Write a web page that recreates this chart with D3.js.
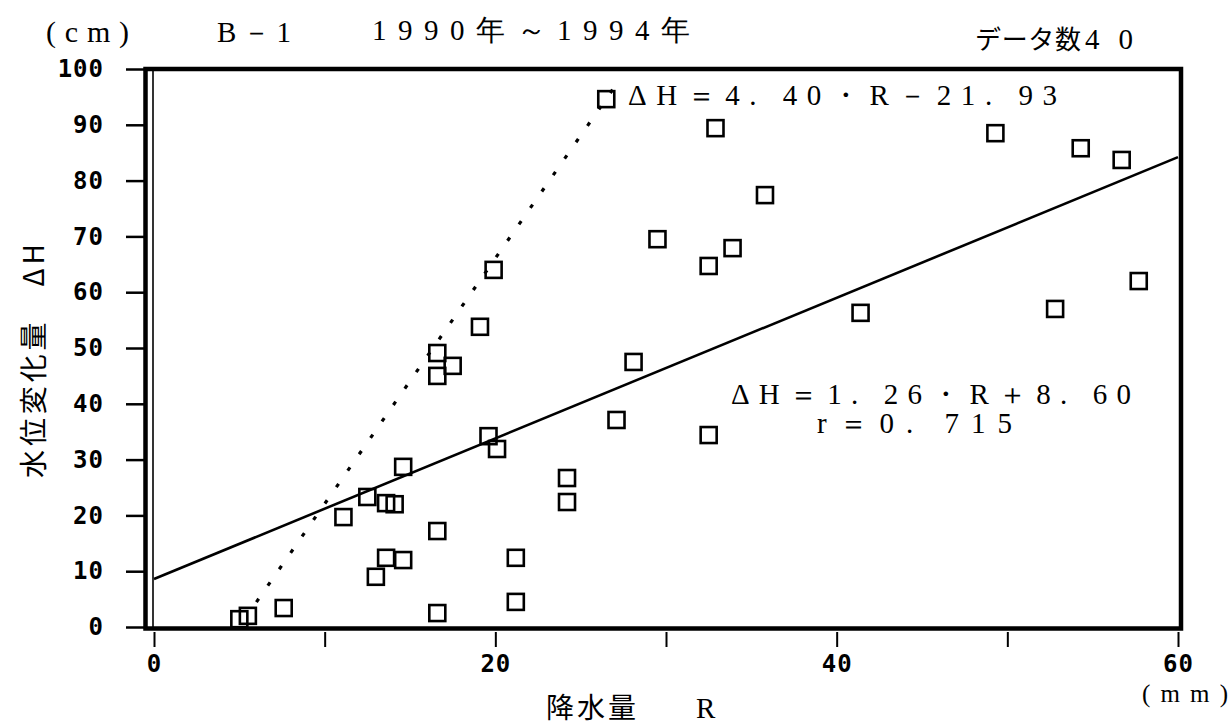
<!DOCTYPE html>
<html>
<head>
<meta charset="utf-8">
<script src="https://cdn.jsdelivr.net/npm/d3@7"></script>
<style>
  body { margin: 0; background: #fff; }
  svg { display: block; }
  .tick text { font-family: "DejaVu Sans Mono", monospace; font-weight: bold; font-size: 24px; letter-spacing: 1px; fill: #000; }
  .serif { font-family: "Liberation Serif", "DejaVu Serif", serif; }
  .jp { font-family: "Noto Sans CJK JP", sans-serif; }
</style>
</head>
<body>
<div id="chart"></div>
<script>
// rainfall R (mm) vs water level change dH (cm), B-1 1990-1994
var rainfall = [5.0, 5.5, 7.6, 11.1, 12.5, 13.6, 14.1, 14.6, 16.6, 17.5,
                16.6, 19.1, 19.6, 20.1, 16.6, 13.6, 14.6, 13.0, 16.6, 21.2,
                21.2, 24.2, 24.2, 27.1, 28.1, 19.9, 26.5, 29.5, 32.9, 32.5,
                33.9, 35.8, 32.5, 41.4, 49.3, 54.3, 56.7, 52.8, 57.7];
var levelChange = [1.4, 2.0, 3.4, 19.7, 23.3, 22.2, 22.0, 28.7, 49.1, 46.8,
                   45.0, 53.8, 34.2, 31.9, 17.2, 12.4, 12.0, 9.0, 2.5, 12.4,
                   4.5, 26.7, 22.4, 37.1, 47.5, 64.0, 94.6, 69.5, 89.4, 64.7,
                   67.9, 77.4, 34.4, 56.3, 88.5, 85.8, 83.7, 57.0, 62.0];

// regression lines: [slope, intercept, from R, to R]
var fitAll = [1.26, 8.60, 0, 60];
var fitUpper = [4.40, -21.93, 6.0, 27.1];

var xTicks = [0, 10, 20, 30, 40, 50, 60];
var xLabelTicks = [0, 20, 40, 60];
var yTicks = [0, 10, 20, 30, 40, 50, 60, 70, 80, 90, 100];

var width = 1230, height = 727;

var svg = d3.select("#chart").append("svg")
    .attr("width", width)
    .attr("height", height);

var x = d3.scaleLinear().domain([0, 60]).range([154, 1178]);
var y = d3.scaleLinear().domain([0, 100]).range([627, 69]);

// frame
svg.append("rect")
    .attr("x", 145.5).attr("y", 69)
    .attr("width", 1181 - 145.5).attr("height", 628.5 - 69)
    .attr("fill", "none").attr("stroke", "#000").attr("stroke-width", 4.5);
svg.append("line")
    .attr("x1", x(0) - 1).attr("x2", x(0) - 1)
    .attr("y1", 69).attr("y2", 628)
    .attr("stroke", "#000").attr("stroke-width", 1.6);

// axes
var yAxis = svg.append("g")
    .attr("transform", "translate(144,0)")
    .call(d3.axisLeft(y).tickValues(yTicks).tickSize(18).tickPadding(22));
yAxis.select(".domain").remove();
yAxis.selectAll(".tick line").attr("stroke-width", 2.5);

var xAxis = svg.append("g")
    .attr("transform", "translate(0,632)")
    .call(d3.axisBottom(x).tickValues(xTicks).tickSize(15).tickPadding(8)
      .tickFormat(function(d) { return xLabelTicks.indexOf(d) >= 0 ? d : ""; }));
xAxis.select(".domain").remove();
xAxis.selectAll(".tick line").attr("stroke-width", 2);

// fitted lines
function fitLine(f) {
  return [[f[2], f[0] * f[2] + f[1]], [f[3], f[0] * f[3] + f[1]]];
}
var line = d3.line()
    .x(function(d) { return x(d[0]); })
    .y(function(d) { return y(d[1]); });

svg.append("path")
    .attr("d", line(fitLine(fitAll)))
    .attr("fill", "none").attr("stroke", "#000").attr("stroke-width", 2.6);

svg.append("path")
    .attr("d", line(fitLine(fitUpper)))
    .attr("fill", "none").attr("stroke", "#000").attr("stroke-width", 3.2)
    .attr("stroke-dasharray", "4 16");

// points
var pts = d3.zip(rainfall, levelChange);
var s = 16;
svg.append("g").selectAll("rect")
  .data(pts)
  .enter()
  .append("rect")
    .attr("x", function(d) { return x(d[0]) - s / 2; })
    .attr("y", function(d) { return y(d[1]) - s / 2; })
    .attr("width", s).attr("height", s)
    .attr("fill", "none").attr("stroke", "#000").attr("stroke-width", 2.6);

// texts
function txt(cls, str, px, py, size, len) {
  var t = svg.append("text")
    .attr("class", cls)
    .attr("x", px).attr("y", py)
    .attr("font-size", size)
    .attr("fill", "#000")
    .text(str);
  if (len) t.attr("textLength", len).attr("lengthAdjust", "spacing");
  return t;
}

txt("serif", "(cm)", 46, 42, 30, 83);
txt("serif", "B－1", 217, 42, 29, 74);
txt("serif", "1990年～1994年", 372, 40, 29, 318);
txt("jp", "データ数", 975, 49, 26, 106);
txt("serif", "40", 1085, 49, 29, 48);

txt("serif", "ΔH＝4. 40・R－21. 93", 628, 105, 29, 429);
txt("serif", "ΔH＝1. 26・R＋8. 60", 731, 404, 29, 400);
txt("serif", "r＝0. 715", 817, 433, 29, 195);

txt("jp", "降水量", 546, 718, 28, 90);
txt("serif", "R", 696, 718, 29);
txt("serif", "(mm)", 1142, 702, 25, 86);

svg.append("text")
    .attr("class", "jp")
    .attr("transform", "translate(44,478) rotate(-90)")
    .attr("font-size", 28)
    .attr("fill", "#000")
    .attr("textLength", 234).attr("lengthAdjust", "spacing")
    .text("水位変化量　ΔH");
</script>
</body>
</html>
